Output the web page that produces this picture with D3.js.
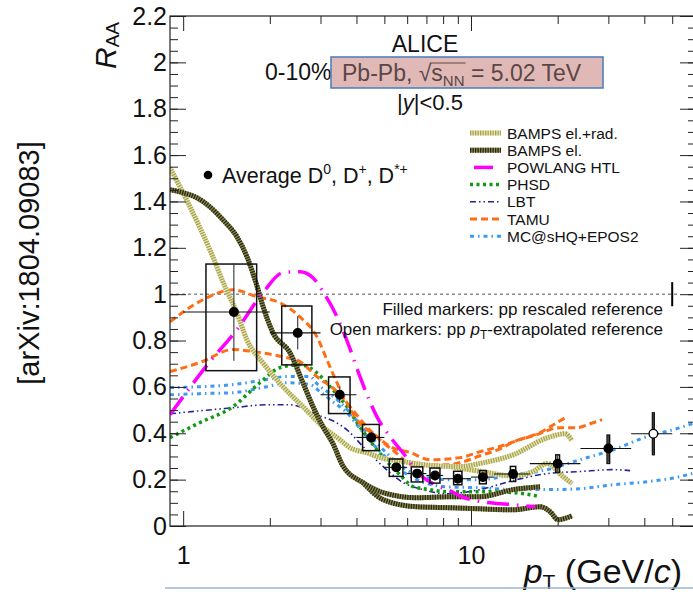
<!DOCTYPE html>
<html>
<head>
<meta charset="utf-8">
<title>D-meson RAA 0-10% Pb-Pb</title>
<script src="https://cdn.jsdelivr.net/npm/d3@7/dist/d3.min.js"></script>
<style>
  html, body { margin: 0; padding: 0; background: #fff; }
  svg { display: block; font-family: "Liberation Sans", Arial, Helvetica, sans-serif; }
</style>
</head>
<body>
<div id="chart"></div>
<script>
// average D0, D+, D*+ RAA
const ptCenter = [1.5, 2.5, 3.5, 4.5, 5.5, 6.5, 7.5, 9, 11, 14, 20, 30, 43];
const ptLow    = [1, 2, 3, 4, 5, 6, 7, 8, 10, 12, 16, 24, 36];
const ptHigh   = [2, 3, 4, 5, 6, 7, 8, 10, 12, 16, 24, 36, 50];
const raa      = [0.923, 0.833, 0.566, 0.382, 0.253, 0.226, 0.218, 0.204, 0.211, 0.224, 0.269, 0.334, 0.398];
const statErr  = [0.21, 0.072, 0.035, 0.025, 0.015, 0.012, 0.012, 0.012, 0.012, 0.015, 0.04, 0.06, 0.093];
const sysUp    = [0.207, 0.116, 0.077, 0.056, 0.036, 0.029, 0.032, 0.032, 0.028, 0.033, 0.038, 0.058, 0.09];
const sysDown  = [0.253, 0.138, 0.081, 0.057, 0.039, 0.036, 0.033, 0.026, 0.029, 0.032, 0.038, 0.064, 0.09];
const openMarker = [false, false, false, false, false, false, false, false, false, false, false, false, true];
const normPt = 50;
const normUnc = 0.052;

// model curves, [pT, RAA]
const bampsRad = [[0.9,1.546],[1.055,1.378],[1.238,1.192],[1.411,1.02],[1.537,0.92],[1.665,0.803],[1.892,0.704],
  [2.221,0.601],[2.607,0.515],[3.059,0.428],[3.505,0.372],[3.797,0.338],[4.35,0.316],[4.945,0.292],[5.667,0.28],
  [7.38,0.26],[8.453,0.257],[9.31,0.257],[10.75,0.27],[14.0,0.307],[18.37,0.38],[21.2,0.398],[22.44,0.368]];
const bampsRadB = [[8.453,0.257],[10.75,0.236],[14.0,0.216],[16.43,0.235],[18.37,0.27],[20.7,0.217],[22.44,0.183]];
const bampsEl = [[0.9,1.451],[0.998,1.438],[1.116,1.416],[1.238,1.377],[1.374,1.321],[1.537,1.248],[1.665,1.162],
  [1.804,1.036],[1.892,0.949],[2.05,0.834],[2.349,0.748],[2.607,0.618],[2.824,0.515],[3.059,0.428],[3.314,0.355],
  [3.578,0.262],[4.213,0.187],[4.945,0.144],[6.49,0.122],[8.453,0.126],[10.75,0.126],[14.0,0.157],[17.37,0.169]];
const bampsElB = [[4.213,0.187],[4.945,0.114],[6.49,0.083],[8.453,0.079],[10.75,0.074],[14.0,0.07],[17.37,0.083],
  [18.82,0.062],[20.06,0.027],[22.44,0.044]];
const powlang = [[0.9,0.48],[1.055,0.597],[1.238,0.709],[1.537,0.847],[1.892,1.006],[2.221,1.093],[2.545,1.097],
  [2.824,1.071],[3.059,1.011],[3.421,0.903],[3.797,0.765],[4.114,0.644],[4.713,0.471],[5.231,0.385],[5.8,0.316],
  [6.65,0.221],[7.5,0.178],[8.45,0.152],[9.31,0.126],[11.65,0.1],[14.0,0.092],[16.7,0.083]];
const phsd = [[0.9,0.381],[1.143,0.446],[1.489,0.515],[1.847,0.618],[2.168,0.683],[2.545,0.696],[2.915,0.661],
  [3.236,0.601],[3.706,0.515],[4.016,0.446],[4.35,0.385],[4.713,0.329],[5.231,0.264],[5.667,0.221],[6.29,0.17],
  [7.203,0.157],[8.25,0.148],[10.75,0.148],[14.0,0.144],[17.37,0.127]];
const lbt = [[0.9,0.484],[1.143,0.497],[1.489,0.51],[1.954,0.523],[2.349,0.523],[2.607,0.51],[2.915,0.48],
  [3.314,0.454],[3.706,0.415],[4.213,0.343],[4.945,0.257],[5.8,0.188],[6.81,0.157],[8.25,0.139],[10.75,0.157],
  [14.0,0.196],[18.37,0.226],[23.93,0.235],[31.2,0.243],[35.7,0.239]];
const tamuUp = [[0.9,0.881],[1.171,0.976],[1.489,1.019],[1.805,0.989],[2.168,0.963],[2.545,0.902],[2.915,0.816],
  [3.158,0.717],[3.421,0.618],[3.706,0.531],[4.016,0.459],[4.713,0.386],[5.231,0.343],[6.138,0.317],[7.203,0.286],
  [9.158,0.295],[10.75,0.321],[12.61,0.343],[14.8,0.373],[17.37,0.403],[19.9,0.446],[21.57,0.472]];
const tamuLow = [[0.9,0.666],[1.143,0.705],[1.489,0.761],[1.847,0.748],[2.221,0.73],[2.545,0.709],[2.915,0.644],
  [3.421,0.58],[3.797,0.515],[4.28,0.437],[4.828,0.372],[5.44,0.32],[6.29,0.264],[8.25,0.264],[9.38,0.277],
  [10.75,0.303],[12.61,0.333],[14.11,0.364],[16.56,0.39],[20.39,0.424],[23.35,0.424],[25.93,0.441],[28.53,0.459]];
const mcshqUp = [[0.9,0.597],[1.143,0.601],[1.489,0.61],[1.954,0.632],[2.293,0.645],[2.757,0.645],[2.915,0.614],
  [3.236,0.571],[3.578,0.523],[4.016,0.454],[4.35,0.403],[4.828,0.343],[5.53,0.274],[6.29,0.227],[8.25,0.2],
  [10.75,0.2],[14.0,0.221],[18.37,0.243],[23.93,0.286],[31.2,0.329],[40.96,0.386],[53.28,0.424],[60,0.446]];
const mcshqLow = [[0.9,0.566],[1.143,0.571],[1.489,0.575],[1.954,0.601],[2.293,0.618],[2.757,0.61],[2.987,0.58],
  [3.314,0.536],[3.706,0.489],[4.114,0.42],[4.457,0.368],[4.945,0.308],[5.667,0.243],[6.49,0.2],[8.25,0.169],
  [10.75,0.165],[14.0,0.157],[18.37,0.157],[23.93,0.161],[31.2,0.178],[40.96,0.191],[53.28,0.213],[60,0.23]];

const yTicks = [0, 0.2, 0.4, 0.6, 0.8, 1, 1.2, 1.4, 1.6, 1.8, 2, 2.2];
const xTicks = [1, 10];
const xMinorTicks = [2, 3, 4, 5, 6, 7, 8, 9, 20, 30, 40, 50];
const legendLabels = ["BAMPS el.+rad.", "BAMPS el.", "POWLANG HTL", "PHSD", "LBT", "TAMU", "MC@sHQ+EPOS2"];

const width = 693, height = 592;
const svg = d3.select("#chart").append("svg")
  .attr("width", width)
  .attr("height", height);

const x = d3.scaleLog().domain([0.9, 60]).range([170, 695]);
const y = d3.scaleLinear().domain([0, 2.2]).range([526, 16]);

svg.append("defs").append("clipPath").attr("id", "plot-clip")
  .append("rect")
    .attr("x", 170).attr("y", 16)
    .attr("width", 525).attr("height", 510);

// model styles
const styles = {
  rad:    {base: "#e6e4bc", color: "#a8a548", width: 5, dash: "1.3,1.2"},
  el:     {base: "#8c8a52", color: "#2a2a12", width: 5, dash: "1.3,1.2"},
  powlang:{color: "#ff00ff", width: 3.5, dash: "22,8,1.5,8"},
  phsd:   {color: "#119911", width: 3.5, dash: "3,3.5"},
  lbt:    {color: "#23239c", width: 1.6, dash: "6,3,1.5,3,1.5,3"},
  tamu:   {color: "#ff6d14", width: 3, dash: "7,4"},
  mcshq:  {color: "#3d9af0", width: 3, dash: "4,4,1.5,4"}
};

const line = d3.line()
  .x(d => x(d[0]))
  .y(d => y(d[1]))
  .curve(d3.curveMonotoneX);

const plot = svg.append("g").attr("clip-path", "url(#plot-clip)");

// reference line at RAA = 1
plot.append("line")
  .attr("x1", x(0.9)).attr("x2", x(53))
  .attr("y1", y(1)).attr("y2", y(1))
  .attr("stroke", "#555")
  .attr("stroke-width", 1)
  .attr("stroke-dasharray", "3,3");

let drawCurve = (data, st) => {
  if (st.base) {
    plot.append("path")
      .attr("d", line(data))
      .attr("fill", "none")
      .attr("stroke", st.base)
      .attr("stroke-width", st.width);
  }
  plot.append("path")
    .attr("d", line(data))
    .attr("fill", "none")
    .attr("stroke", st.color)
    .attr("stroke-width", st.width)
    .attr("stroke-dasharray", st.dash);
};

drawCurve(mcshqLow, styles.mcshq);
drawCurve(mcshqUp, styles.mcshq);
drawCurve(lbt, styles.lbt);
drawCurve(phsd, styles.phsd);
drawCurve(tamuLow, styles.tamu);
drawCurve(tamuUp, styles.tamu);
drawCurve(bampsRadB, styles.rad);
drawCurve(bampsRad, styles.rad);
drawCurve(bampsElB, styles.el);
drawCurve(bampsEl, styles.el);
drawCurve(powlang, styles.powlang);

// data points
const pts = ptCenter.map((pt, i) => ({
  pt: pt, lo: ptLow[i], hi: ptHigh[i], v: raa[i],
  stat: statErr[i], up: sysUp[i], down: sysDown[i], open: openMarker[i]
}));

const dataG = svg.append("g");

dataG.selectAll(".sys")
  .data(pts)
  .enter().append("rect")
    .attr("class", "sys")
    .attr("x", d => x(d.pt - 0.3))
    .attr("width", d => x(d.pt + 0.3) - x(d.pt - 0.3))
    .attr("y", d => y(d.v + d.up))
    .attr("height", d => y(d.v - d.down) - y(d.v + d.up))
    .attr("fill", "none")
    .attr("stroke", "#111")
    .attr("stroke-width", 1.5);

dataG.selectAll(".xerr")
  .data(pts)
  .enter().append("line")
    .attr("class", "xerr")
    .attr("x1", d => x(d.lo)).attr("x2", d => x(d.hi))
    .attr("y1", d => y(d.v)).attr("y2", d => y(d.v))
    .attr("stroke", "#111")
    .attr("stroke-width", 1.1);

dataG.selectAll(".yerr")
  .data(pts)
  .enter().append("line")
    .attr("class", "yerr")
    .attr("x1", d => x(d.pt)).attr("x2", d => x(d.pt))
    .attr("y1", d => y(d.v + d.stat)).attr("y2", d => y(d.v - d.stat))
    .attr("stroke", "#333")
    .attr("stroke-width", 1.1);

dataG.selectAll(".marker")
  .data(pts)
  .enter().append("circle")
    .attr("class", "marker")
    .attr("cx", d => x(d.pt))
    .attr("cy", d => y(d.v))
    .attr("r", 4.3)
    .attr("fill", d => d.open ? "#fff" : "#000")
    .attr("stroke", "#000")
    .attr("stroke-width", 1.3);

// normalisation uncertainty
dataG.append("rect")
  .attr("x", x(normPt - 0.4))
  .attr("width", x(normPt + 0.4) - x(normPt - 0.4))
  .attr("y", y(1 + normUnc))
  .attr("height", y(1 - normUnc) - y(1 + normUnc))
  .attr("fill", "#000");

// axes, ROOT style ticks pointing inward
let styleAxis = g => {
  g.select(".domain").remove();
  g.selectAll(".tick line").attr("stroke", "#222");
  g.selectAll("text").attr("fill", "#111");
};

svg.append("g")
  .attr("transform", "translate(170,0)")
  .call(d3.axisLeft(y).tickValues(d3.range(0, 2.2001, 0.05)).tickSize(-8).tickFormat(""))
  .call(styleAxis);
svg.append("g")
  .attr("transform", "translate(170,0)")
  .call(d3.axisLeft(y).tickValues(yTicks).tickSize(-16).tickPadding(3).tickFormat(d3.format("~g")))
  .call(styleAxis)
  .selectAll("text").attr("font-size", 25);

svg.append("g")
  .attr("transform", "translate(695,0)")
  .call(d3.axisRight(y).tickValues(d3.range(0, 2.2001, 0.05)).tickSize(-7).tickFormat(""))
  .call(styleAxis);
svg.append("g")
  .attr("transform", "translate(695,0)")
  .call(d3.axisRight(y).tickValues(yTicks).tickSize(-15).tickFormat(""))
  .call(styleAxis);

svg.append("g")
  .attr("transform", "translate(0,526)")
  .call(d3.axisBottom(x).tickValues(xMinorTicks).tickSize(-8).tickFormat(""))
  .call(styleAxis);
svg.append("g")
  .attr("transform", "translate(0,526)")
  .call(d3.axisBottom(x).tickValues(xTicks).tickSize(-15).tickPadding(20).tickFormat(d3.format("d")))
  .call(styleAxis)
  .selectAll("text").attr("font-size", 25);

svg.append("g")
  .attr("transform", "translate(0,16)")
  .call(d3.axisTop(x).tickValues(xMinorTicks).tickSize(-8).tickFormat(""))
  .call(styleAxis);
svg.append("g")
  .attr("transform", "translate(0,16)")
  .call(d3.axisTop(x).tickValues(xTicks).tickSize(-15).tickFormat(""))
  .call(styleAxis);

svg.append("rect")
  .attr("x", 170).attr("y", 16)
  .attr("width", 525).attr("height", 510)
  .attr("fill", "none")
  .attr("stroke", "#222")
  .attr("stroke-width", 1.2);

// axis titles
let yTitle = svg.append("text")
  .attr("transform", "translate(116,69) rotate(-90)")
  .attr("fill", "#111");
yTitle.append("tspan").attr("font-size", 30).attr("font-style", "italic").text("R");
yTitle.append("tspan").attr("font-size", 19).attr("dy", 3).text("AA");

let xTitle = svg.append("text")
  .attr("x", 682).attr("y", 583)
  .attr("text-anchor", "end")
  .attr("font-size", 34)
  .attr("fill", "#111");
xTitle.append("tspan").attr("font-style", "italic").text("p");
xTitle.append("tspan").attr("font-size", 21).attr("dy", 6).text("T");
xTitle.append("tspan").attr("dy", -6).text(" (GeV/");
xTitle.append("tspan").attr("font-style", "italic").text("c");
xTitle.append("tspan").text(")");

// header
svg.append("text")
  .attr("x", 425).attr("y", 52)
  .attr("text-anchor", "middle")
  .attr("font-size", 23)
  .attr("fill", "#111")
  .text("ALICE");

svg.append("text")
  .attr("x", 265).attr("y", 80)
  .attr("font-size", 23)
  .attr("fill", "#111")
  .text("0-10%");

svg.append("rect")
  .attr("x", 331).attr("y", 57)
  .attr("width", 272).attr("height", 31)
  .attr("fill", "#e0b9b6")
  .attr("stroke", "#4f81bd")
  .attr("stroke-width", 1.6);

let sysText = svg.append("text")
  .attr("x", 342).attr("y", 81)
  .attr("font-size", 23)
  .attr("fill", "#5a4646");
sysText.append("tspan").text("Pb-Pb, \u221A");
sysText.append("tspan").text("s");
sysText.append("tspan").attr("font-size", 15).attr("dy", 5).text("NN");
sysText.append("tspan").attr("dy", -5).text(" = 5.02 TeV");

let node = sysText.node();
let ox1 = node.getStartPositionOfChar(8).x - 1;
let ox2 = node.getEndPositionOfChar(10).x + 1;
svg.append("line")
  .attr("x1", ox1).attr("x2", ox2)
  .attr("y1", 81 - 18).attr("y2", 81 - 18)
  .attr("stroke", "#5a4646")
  .attr("stroke-width", 1.2);

let rapText = svg.append("text")
  .attr("x", 430).attr("y", 110)
  .attr("text-anchor", "middle")
  .attr("font-size", 22)
  .attr("fill", "#111");
rapText.append("tspan").text("|");
rapText.append("tspan").attr("font-style", "italic").text("y");
rapText.append("tspan").text("|<0.5");

// average marker label
svg.append("circle")
  .attr("cx", 208).attr("cy", 175)
  .attr("r", 4.3)
  .attr("fill", "#000");

let avgText = svg.append("text")
  .attr("x", 222).attr("y", 183)
  .attr("font-size", 21.5)
  .attr("fill", "#111");
avgText.append("tspan").text("Average D");
avgText.append("tspan").attr("font-size", 14).attr("dy", -9).text("0");
avgText.append("tspan").attr("dy", 9).text(", D");
avgText.append("tspan").attr("font-size", 14).attr("dy", -9).text("+");
avgText.append("tspan").attr("dy", 9).text(", D");
avgText.append("tspan").attr("font-size", 14).attr("dy", -9).text("*+");

// reference notes
svg.append("text")
  .attr("x", 663).attr("y", 315)
  .attr("text-anchor", "end")
  .attr("font-size", 17)
  .attr("fill", "#111")
  .text("Filled markers: pp rescaled reference");

let openText = svg.append("text")
  .attr("x", 663).attr("y", 335)
  .attr("text-anchor", "end")
  .attr("font-size", 17)
  .attr("fill", "#111");
openText.append("tspan").text("Open markers: pp ");
openText.append("tspan").attr("font-style", "italic").text("p");
openText.append("tspan").attr("font-size", 12).attr("dy", 4).text("T");
openText.append("tspan").attr("dy", -4).text("-extrapolated reference");

// legend
const legendStyles = [styles.rad, styles.el, styles.powlang, styles.phsd, styles.lbt, styles.tamu, styles.mcshq];

let legend = svg.selectAll(".legend")
  .data(legendLabels)
  .enter().append("g")
    .attr("class", "legend")
    .attr("transform", (d, i) => "translate(470," + (133 + i * 17.2) + ")");

legend.each(function(d, i) {
  let g = d3.select(this);
  let st = legendStyles[i];
  if (st.base) {
    g.append("line")
      .attr("x1", 0).attr("x2", 31)
      .attr("stroke", st.base)
      .attr("stroke-width", st.width);
  }
  if (i === 2) {
    g.append("line")
      .attr("x1", 4).attr("x2", 23)
      .attr("stroke", st.color)
      .attr("stroke-width", st.width);
  } else {
    g.append("line")
      .attr("x1", 0).attr("x2", 31)
      .attr("stroke", st.color)
      .attr("stroke-width", st.width)
      .attr("stroke-dasharray", st.dash);
  }
  g.append("text")
    .attr("x", 37).attr("y", 5.5)
    .attr("font-size", 15.5)
    .attr("fill", "#111")
    .text(d);
});

// arXiv tag and slide rule
svg.append("text")
  .attr("transform", "translate(29,263) rotate(-90)")
  .attr("text-anchor", "middle")
  .attr("dominant-baseline", "central")
  .attr("font-size", 29)
  .attr("fill", "#111")
  .text("[arXiv:1804.09083]");

svg.append("line")
  .attr("x1", 165).attr("x2", 693)
  .attr("y1", 588).attr("y2", 588)
  .attr("stroke", "#9db5d3")
  .attr("stroke-width", 1.5);
</script>
</body>
</html>
